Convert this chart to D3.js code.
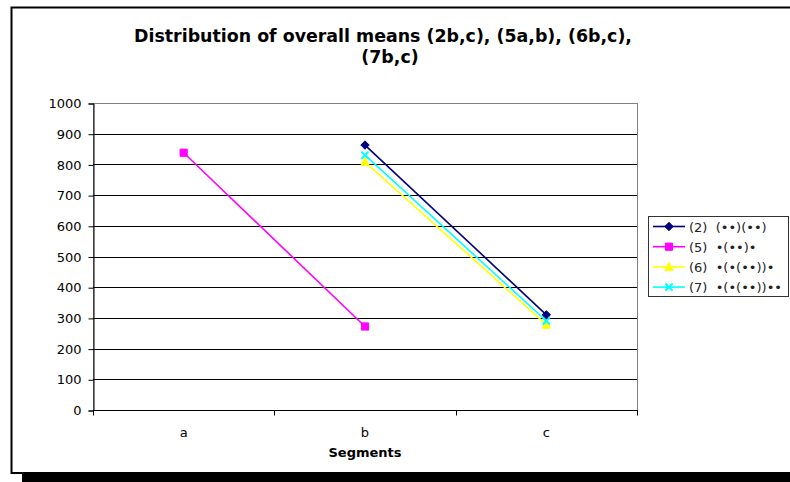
<!DOCTYPE html>
<html>
<head>
<meta charset="utf-8">
<script src="https://cdn.jsdelivr.net/npm/d3@7"></script>
<style>
  html, body { margin: 0; padding: 0; background: #fff; }
  svg { display: block; font-family: "DejaVu Sans", Verdana, sans-serif; }
</style>
</head>
<body>
<svg id="chart" width="790" height="482"></svg>
<script>
// Segments along the x axis
const segments = ["a", "b", "c"];

// Overall means per series (null where the series has no value)
const series2 = [null, 863, 310];
const series5 = [838, 272, null];
const series6 = [null, 808, 278];
const series7 = [null, 830, 290];

const seriesNames = ["(2)  (••)(••)", "(5)  •(••)•", "(6)  •(•(••))•", "(7)  •(•(••))••"];
const yTicks = [0, 100, 200, 300, 400, 500, 600, 700, 800, 900, 1000];

const titleLines = ["Distribution of overall means (2b,c), (5a,b), (6b,c),", "(7b,c)"];
const xTitle = "Segments";

const seriesList = [
  { name: seriesNames[0], values: series2, color: "#000080", marker: "diamond" },
  { name: seriesNames[1], values: series5, color: "#FF00FF", marker: "square" },
  { name: seriesNames[2], values: series6, color: "#FFFF00", marker: "triangle" },
  { name: seriesNames[3], values: series7, color: "#00FFFF", marker: "x" }
];

const svg = d3.select("#chart");

// Outer frame with its drop shadow
svg.append("rect").attr("x", 22).attr("y", 474).attr("width", 790).attr("height", 10).attr("fill", "#000");
svg.append("rect").attr("x", 11.5).attr("y", 7.5).attr("width", 800).attr("height", 465.5)
  .attr("fill", "#fff").attr("stroke", "#000").attr("stroke-width", 2);

const plot = { left: 93, right: 637, top: 103, bottom: 410 };

const x = d3.scaleBand().domain(segments).range([plot.left, plot.right]).paddingInner(0).paddingOuter(0);
const y = d3.scaleLinear().domain([0, 1000]).range([plot.bottom, plot.top]);

// Title
svg.append("g").selectAll("text").data(titleLines).join("text")
  .attr("x", (d, i) => i === 0 ? 383 : 390).attr("y", (d, i) => 42 + i * 21)
  .attr("text-anchor", "middle")
  .attr("font-size", 17.4).attr("font-weight", "bold").attr("fill", "#000")
  .text(d => d);

// Plot area border
svg.append("rect").attr("x", plot.left + 0.5).attr("y", plot.top + 0.5)
  .attr("width", plot.right - plot.left).attr("height", plot.bottom - plot.top)
  .attr("fill", "none").attr("stroke", "#808080").attr("stroke-width", 1);

// Horizontal gridlines
svg.append("g").selectAll("line").data(yTicks.filter(t => t > 0 && t < 1000)).join("line")
  .attr("x1", plot.left).attr("x2", plot.right)
  .attr("y1", d => Math.round(y(d)) + 0.5).attr("y2", d => Math.round(y(d)) + 0.5)
  .attr("stroke", "#000").attr("stroke-width", 1);

// Y axis
const yAxis = d3.axisLeft(y).tickValues(yTicks).tickFormat(d3.format("d")).tickSize(5).tickPadding(7);
const gy = svg.append("g").attr("transform", `translate(${plot.left + 0.5},0.5)`).call(yAxis);
gy.select(".domain").attr("stroke", "#000");
gy.selectAll(".tick line").attr("stroke", "#000");
gy.selectAll(".tick text").attr("font-size", 13).attr("font-family", "DejaVu Sans, Verdana, sans-serif").attr("fill", "#000");

// X axis with ticks between categories
const gx = svg.append("g").attr("transform", `translate(0,${plot.bottom + 0.5})`);
gx.append("line").attr("x1", plot.left).attr("x2", plot.right + 1).attr("y1", 0).attr("y2", 0).attr("stroke", "#000");
const bounds = segments.map(s => x(s)).concat([x(segments[segments.length - 1]) + x.bandwidth()]);
gx.selectAll("line.tk").data(bounds).join("line").attr("class", "tk")
  .attr("x1", d => Math.round(d) + 0.5).attr("x2", d => Math.round(d) + 0.5)
  .attr("y1", 0).attr("y2", 5).attr("stroke", "#000");
gx.selectAll("text").data(segments).join("text")
  .attr("x", d => x(d) + x.bandwidth() / 2).attr("y", 26)
  .attr("text-anchor", "middle").attr("font-size", 13).attr("fill", "#000")
  .text(d => d);

svg.append("text").attr("x", 365).attr("y", 457).attr("text-anchor", "middle")
  .attr("font-size", 13).attr("font-weight", "bold").attr("fill", "#000").text(xTitle);

// Series lines and markers
const cx = s => x(s) + x.bandwidth() / 2;
const line = d3.line().defined(d => d.v !== null).x(d => cx(d.s)).y(d => y(d.v));

function drawMarker(g, s, px, py) {
  const r = 3.6;
  let d;
  if (s.marker === "x") {
    g.append("path").attr("d", `M${px - r},${py - r}L${px + r},${py + r}M${px - r},${py + r}L${px + r},${py - r}`)
      .attr("stroke", s.color).attr("stroke-width", 2).attr("fill", "none");
    return;
  }
  if (s.marker === "diamond") d = `M${px},${py - r - 0.6}L${px + r + 0.6},${py}L${px},${py + r + 0.6}L${px - r - 0.6},${py}Z`;
  if (s.marker === "square") d = `M${px - r},${py - r}h${2 * r}v${2 * r}h${-2 * r}Z`;
  if (s.marker === "triangle") d = `M${px},${py - r - 1}L${px + r + 0.6},${py + r}L${px - r - 0.6},${py + r}Z`;
  g.append("path").attr("d", d).attr("fill", s.color).attr("stroke", s.color).attr("stroke-width", 1);
}

const gSeries = svg.append("g");
seriesList.forEach(s => {
  const pts = segments.map((seg, i) => ({ s: seg, v: s.values[i] }));
  gSeries.append("path").attr("d", line(pts)).attr("fill", "none")
    .attr("stroke", s.color).attr("stroke-width", 1.6);
});
seriesList.forEach(s => {
  segments.forEach((seg, i) => {
    if (s.values[i] !== null) drawMarker(gSeries, s, cx(seg), y(s.values[i]));
  });
});

// Legend
const legend = { x: 648.5, y: 216.5, w: 140, h: 80 };
svg.append("rect").attr("x", legend.x).attr("y", legend.y).attr("width", legend.w).attr("height", legend.h)
  .attr("fill", "#fff").attr("stroke", "#333").attr("stroke-width", 1);
seriesList.forEach((s, i) => {
  const ly = 226.5 + i * 20.2;
  const g = svg.append("g");
  g.append("line").attr("x1", 653).attr("x2", 685).attr("y1", ly).attr("y2", ly)
    .attr("stroke", s.color).attr("stroke-width", 1.6);
  drawMarker(g, s, 669, ly);
  g.append("text").attr("x", 689).attr("y", ly + 5).attr("font-size", 13).attr("fill", "#222")
    .attr("xml:space", "preserve").style("white-space", "pre").text(s.name);
});
</script>
</body>
</html>
